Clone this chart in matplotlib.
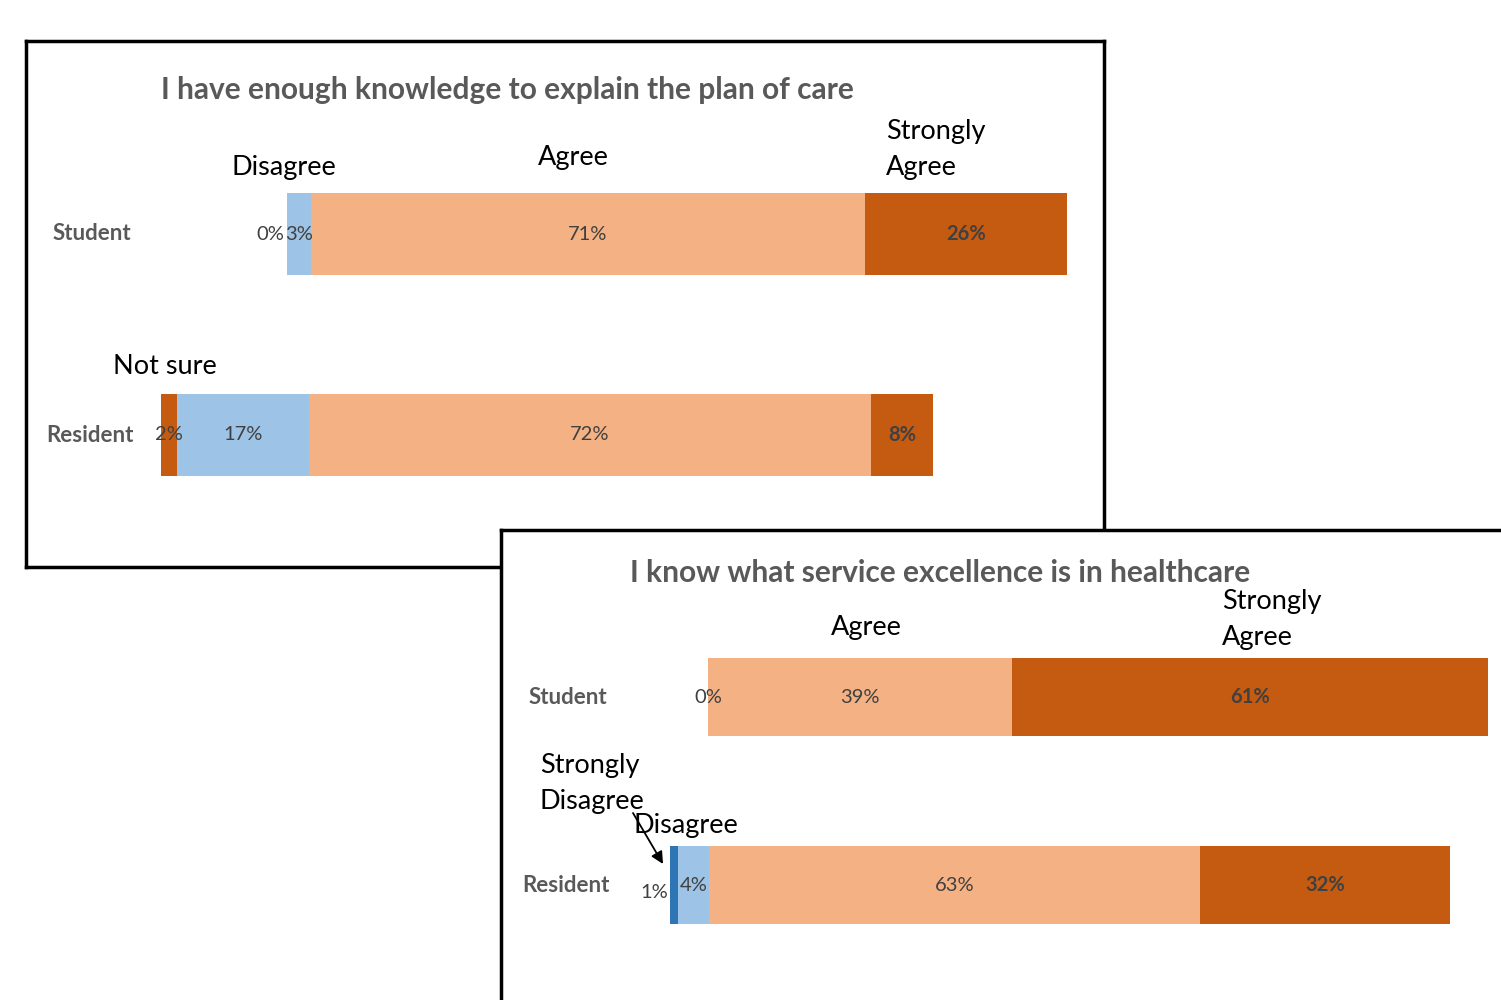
import numpy as np
import matplotlib.pyplot as plt
from matplotlib.transforms import blended_transform_factory

# two survey questions, stacked percentage bars per group
groups = ["Student", "Resident"]

plan_title = "I have enough knowledge to explain the plan of care"
plan_series = ["Not sure", "Disagree", "Agree", "Strongly Agree"]
plan_student = [0, 3, 71, 26]
plan_resident = [2, 17, 72, 8]
plan_spacer = [16.2, 0]          # hidden offset series

service_title = "I know what service excellence is in healthcare"
service_series = ["Strongly Disagree", "Disagree", "Agree", "Strongly Agree"]
service_student = [np.nan, 0, 39, 61]
service_resident = [1, 4, 63, 32]
service_spacer = [4.9, 0]

DARK = "#C55A11"
LIGHT = "#F4B183"
SKY = "#9DC3E6"
BLUE = "#2E75B6"
plan_colors = [DARK, SKY, LIGHT, DARK]
service_colors = [BLUE, SKY, LIGHT, DARK]

W, H = 1501, 1000
PX = 7.8   # pixels per percent
plt.rcParams['font.family'] = ['Lato', 'DejaVu Sans']
fig = plt.figure(figsize=(W / 100, H / 100), dpi=100)


def rect(x0, y0, x1, y1):
    return [x0 / W, 1 - y1 / H, (x1 - x0) / W, (y1 - y0) / H]


def fpos(px, py):
    return px / W, 1 - py / H


def panel(box, zero_x, row_y, row_step, z):
    frame = fig.add_axes(rect(*box), zorder=z)
    frame.set_xticks([])
    frame.set_yticks([])
    for s in frame.spines.values():
        s.set_linewidth(2.5)
        s.set_color("black")
    ax = fig.add_axes(rect(*box), zorder=z + 1)
    ax.set_facecolor("none")
    ax.axis("off")
    x0, y0, x1, y1 = box
    ax.set_xlim((x0 - zero_x) / PX, (x1 - zero_x) / PX)
    ax.set_ylim((y1 - row_y) / row_step, (y0 - row_y) / row_step)
    return ax


def bars(ax, rows, spacer, colors, height, zero_ha, small_dy):
    for i, vals in enumerate(rows):
        left = spacer[i]
        for j, v in enumerate(vals):
            if np.isnan(v):
                continue
            ax.barh(i, v, left=left, height=height, color=colors[j], linewidth=0)
            bold = colors[j] == DARK and v > 5
            lab = "%d%%" % v
            if v == 0:
                x, ha, dy = left, zero_ha, 0
                if zero_ha == "right":
                    x -= 0.4
            elif v < 1.5:
                x, ha, dy = left - 0.2, "right", small_dy
            else:
                x, ha, dy = left + v / 2, "center", 0
            ax.text(x, i + dy, lab, ha=ha, va="center", fontsize=14.5,
                    color="#404040", fontweight="bold" if bold else "normal")
            left += v


def cat_labels(ax, xs):
    tr = blended_transform_factory(fig.transFigure, ax.transData)
    for i, g in enumerate(groups):
        ax.text(xs[i] / W, i, g, transform=tr, ha="left", va="center",
                fontsize=16, fontweight="bold", color="#595959")


def note(ax, px, py, s, ha="center"):
    x, y = fpos(px, py)
    ax.text(x, y, s, transform=fig.transFigure, ha=ha, va="center",
            fontsize=19.5, color="black", linespacing=1.55)


# upper panel
ax1 = panel((26, 41, 1104, 567), 161, 234, 201, 1)
bars(ax1, [plan_student, plan_resident], plan_spacer, plan_colors, 0.41, "right", 0)
cat_labels(ax1, [53, 46])
x, y = fpos(507, 90)
ax1.text(x, y, plan_title, transform=fig.transFigure, ha="center", va="center",
         fontsize=21.5, fontweight="bold", color="#595959")
note(ax1, 284, 167, "Disagree")
note(ax1, 573, 157, "Agree")
note(ax1, 886, 149, "Strongly\nAgree", ha="left")
note(ax1, 165, 367, "Not sure")

# lower panel, drawn over the first
ax2 = panel((501, 530, 1530, 1030), 670, 697, 188, 3)
bars(ax2, [service_student, service_resident], service_spacer, service_colors,
     0.41, "center", 0.04)
cat_labels(ax2, [529, 522])
x, y = fpos(940, 573)
ax2.text(x, y, service_title, transform=fig.transFigure, ha="center", va="center",
         fontsize=21.5, fontweight="bold", color="#595959")
note(ax2, 866, 627, "Agree")
note(ax2, 1222, 620, "Strongly\nAgree", ha="left")
note(ax2, 540, 783, "Strongly\nDisagree", ha="left")
note(ax2, 634, 825, "Disagree", ha="left")
ax2.annotate("", xy=fpos(663, 864), xytext=fpos(633, 813),
             xycoords="figure fraction", textcoords="figure fraction",
             arrowprops=dict(arrowstyle="-|>", color="black", lw=1.3,
                             mutation_scale=18, shrinkA=0, shrinkB=0))

fig.savefig("out.png", dpi=100)
